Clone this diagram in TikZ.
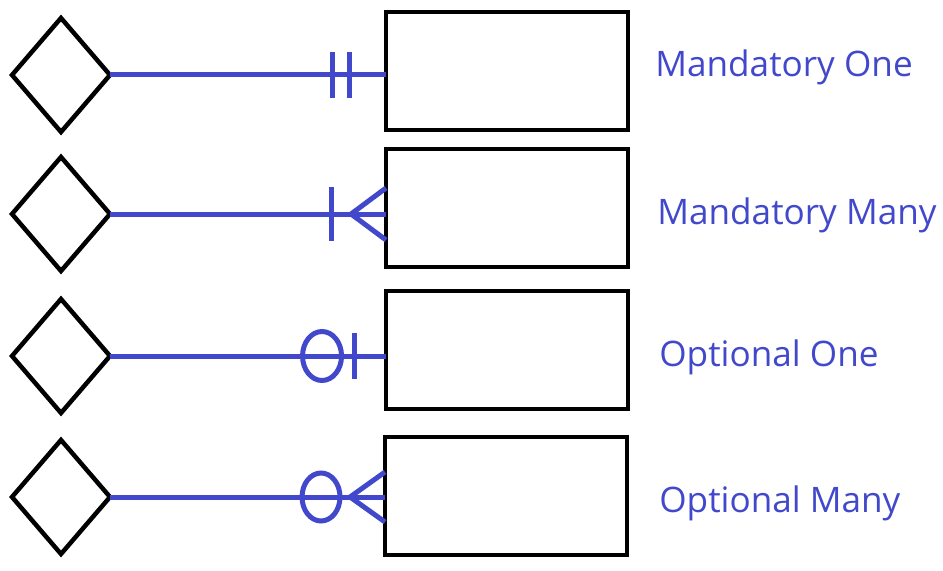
\documentclass[tikz,border=0pt]{standalone}
\usepackage{fontspec}
\setmainfont{Open Sans}
\usetikzlibrary{shapes.geometric}
\definecolor{erblue}{RGB}{66,72,204}
\tikzset{
  relation/.style={diamond, draw, line width=0.09cm, minimum width=1.96cm,
    minimum height=2.28cm, inner sep=0pt, outer sep=0pt},
  entity/.style={rectangle, draw, line width=0.09cm, minimum width=4.84cm,
    minimum height=2.36cm, inner sep=0pt, outer sep=0pt},
  erline/.style={erblue, line width=0.1cm},
  erlabel/.style={anchor=base west, text=erblue, inner sep=0pt,
    font=\fontsize{20}{24}\selectfont}
}
\begin{document}
\begin{tikzpicture}[x=0.02cm, y=-0.02cm]
\useasboundingbox (0,0) rectangle (943,571);

% Relationships, entities and their links
\foreach \i/\dy/\rx/\ry in {1/75/507/71, 2/214/507/208, 3/356/507/350, 4/497/506/496} {
    \node[relation] (d\i) at (61,\dy) {};
    \node[entity] (r\i) at (\rx,\ry) {};
    \draw[erline] (d\i.east) -- (d\i.east -| r\i.west) coordinate (e\i);
}

% Mandatory one
\begin{scope}[shift={(e1)}]
\draw[erline] (-54,-23) -- (-54,23);
\draw[erline] (-37,-23) -- (-37,23);
\end{scope}

% Mandatory many
\begin{scope}[shift={(e2)}]
\draw[erline] (-55,-27) -- (-55,27);
\draw[erline] (0,-26) -- (-35,0) -- (0,26);
\end{scope}

% Optional one
\begin{scope}[shift={(e3)}]
\draw[erline] (-64,0) ellipse [x radius=0.39cm, y radius=0.49cm];
\draw[erline] (-32,-23) -- (-32,23);
\end{scope}

% Optional many
\begin{scope}[shift={(e4)}]
\draw[erline] (-64,0) ellipse [x radius=0.38cm, y radius=0.48cm];
\draw[erline] (0,-25) -- (-35,0) -- (0,25);
\end{scope}

% Labels
\node[erlabel] (l1) at (655,77) {Mandatory One};
\node[erlabel] (l2) at (657,224) {Mandatory Many};
\node[erlabel] (l3) at (659,366) {Optional One};
\node[erlabel] (l4) at (659,512) {Optional Many};
\end{tikzpicture}
\end{document}
